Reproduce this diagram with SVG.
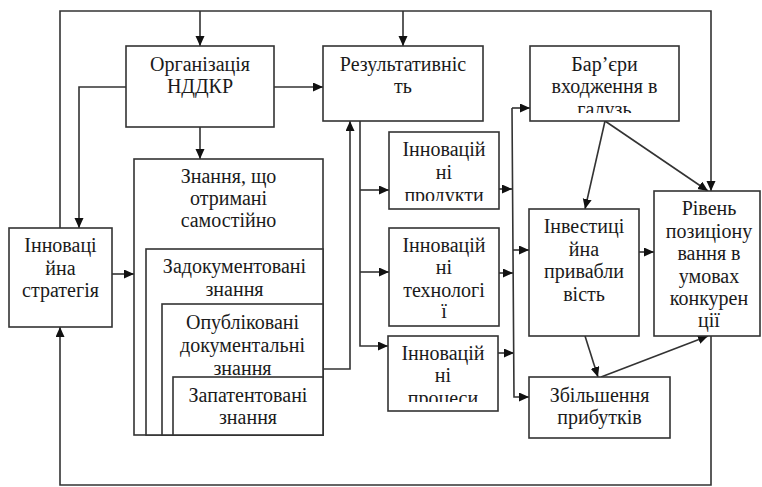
<svg xmlns="http://www.w3.org/2000/svg" width="762" height="487" viewBox="0 0 762 487" font-family="'Liberation Serif', 'Times New Roman', 'DejaVu Serif', serif">
<style>
.box{fill:#fff;stroke:#333;stroke-width:1.6}
.ar{fill:none;stroke:#333;stroke-width:1.6;marker-end:url(#ah)}
.t{font-family:'Liberation Serif','Times New Roman','DejaVu Serif',serif;font-size:20px;fill:#1a1a1a;text-anchor:middle}
</style>
<defs>
<marker id="ah" markerUnits="userSpaceOnUse" markerWidth="11" markerHeight="10" refX="10" refY="4.5" orient="auto">
<path d="M0,0 L10,4.5 L0,9 z" fill="#111"/>
</marker>
<clipPath id="cBar"><rect x="530" y="46" width="149" height="67"/></clipPath>
<clipPath id="cProd"><rect x="389" y="132" width="110" height="69"/></clipPath>
<clipPath id="cProc"><rect x="388" y="336" width="110" height="66"/></clipPath>
</defs>
<rect width="762" height="487" fill="#fff"/>
<g id="connectors">
<path class="ar" d="M60,228 L60,11 L711,11 L711,191"/>
<path class="ar" d="M200,11 L200,46"/>
<path class="ar" d="M403,11 L403,46"/>
<path class="ar" d="M126,87 L79,87 L79,228"/>
<path class="ar" d="M274,87 L323,87"/>
<path class="ar" d="M200,127 L200,159"/>
<path class="ar" d="M112,274 L134,274"/>
<path class="ar" d="M323,369 L350,369 L350,121"/>
<path class="ar" d="M360,121 L360,346 L388,346"/>
<path class="ar" d="M360,190 L389,190"/>
<path class="ar" d="M360,272 L389,272"/>
<path class="ar" d="M499,189 L512,189"/>
<path class="ar" d="M499,273 L513,273"/>
<path class="ar" d="M498,353 L514,353"/>
<path class="ar" d="M512,108 L530,108"/>
<path class="ar" d="M512,108 L514,397 L529,397"/>
<path class="ar" d="M513,250 L529,250"/>
<path class="ar" d="M639,252 L654,252"/>
<path class="ar" d="M605,121 L585,209"/>
<path class="ar" d="M605,121 L708,191"/>
<path class="ar" d="M585,336 L598,377"/>
<path class="ar" d="M601,377 L708,336"/>
<path class="ar" d="M711,336 L711,485 L60,485 L60,327"/>
</g>
<g id="org">
<rect class="box" x="126" y="46" width="148" height="81"/>
<text class="t" x="200" y="71">Організація</text>
<text class="t" x="200" y="93">НДДКР</text>
</g>
<g id="result">
<rect class="box" x="323" y="46" width="160" height="75"/>
<text class="t" x="403" y="71">Результативніс</text>
<text class="t" x="403" y="93">ть</text>
</g>
<g id="barriers">
<rect class="box" x="530" y="46" width="149" height="75"/>
<g clip-path="url(#cBar)">
<text class="t" x="604.5" y="71">Бар’єри</text>
<text class="t" x="604.5" y="93">входження в</text>
<text class="t" x="604.5" y="116">галузь</text>
</g>
</g>
<g id="strategy">
<rect class="box" x="9" y="228" width="103" height="99"/>
<text class="t" x="60.5" y="252">Інноваці</text>
<text class="t" x="60.5" y="275">йна</text>
<text class="t" x="60.5" y="297">стратегія</text>
</g>
<g id="knowledge">
<rect class="box" x="134" y="159" width="189" height="276"/>
<text class="t" x="228.5" y="183">Знання, що</text>
<text class="t" x="228.5" y="205">отримані</text>
<text class="t" x="228.5" y="227">самостійно</text>
</g>
<g id="documented">
<rect class="box" x="146" y="249" width="177" height="186"/>
<text class="t" x="234.5" y="273">Задокументовані</text>
<text class="t" x="234.5" y="296">знання</text>
</g>
<g id="published">
<rect class="box" x="162" y="304" width="161" height="131"/>
<text class="t" x="242.5" y="329">Опубліковані</text>
<text class="t" x="242.5" y="352">документальні</text>
<text class="t" x="242.5" y="375">знання</text>
</g>
<g id="patented">
<rect class="box" x="173" y="377" width="150" height="58"/>
<text class="t" x="248" y="402">Запатентовані</text>
<text class="t" x="248" y="424">знання</text>
</g>
<g id="products">
<rect class="box" x="389" y="132" width="110" height="77"/>
<g clip-path="url(#cProd)">
<text class="t" x="444" y="156">Інновацій</text>
<text class="t" x="444" y="179">ні</text>
<text class="t" x="444" y="202">продукти</text>
</g>
</g>
<g id="technologies">
<rect class="box" x="389" y="228" width="110" height="98"/>
<text class="t" x="444" y="252">Інновацій</text>
<text class="t" x="444" y="274">ні</text>
<text class="t" x="444" y="297">технологі</text>
<text class="t" x="444" y="318">ї</text>
</g>
<g id="processes">
<rect class="box" x="388" y="336" width="110" height="75"/>
<g clip-path="url(#cProc)">
<text class="t" x="443" y="360">Інновацій</text>
<text class="t" x="443" y="382">ні</text>
<text class="t" x="443" y="405">процеси</text>
</g>
</g>
<g id="investment">
<rect class="box" x="529" y="209" width="110" height="127"/>
<text class="t" x="584" y="233">Інвестиці</text>
<text class="t" x="584" y="256">йна</text>
<text class="t" x="584" y="278">привабли</text>
<text class="t" x="584" y="301">вість</text>
</g>
<g id="position">
<rect class="box" x="654" y="191" width="106" height="145"/>
<text class="t" x="709" y="215">Рівень</text>
<text class="t" x="709" y="238">позиціону</text>
<text class="t" x="709" y="260">вання в</text>
<text class="t" x="709" y="283">умовах</text>
<text class="t" x="709" y="305">конкурен</text>
<text class="t" x="709" y="327">ції</text>
</g>
<g id="profit">
<rect class="box" x="529" y="377" width="141" height="61"/>
<text class="t" x="599.5" y="402">Збільшення</text>
<text class="t" x="599.5" y="424">прибутків</text>
</g>
</svg>
